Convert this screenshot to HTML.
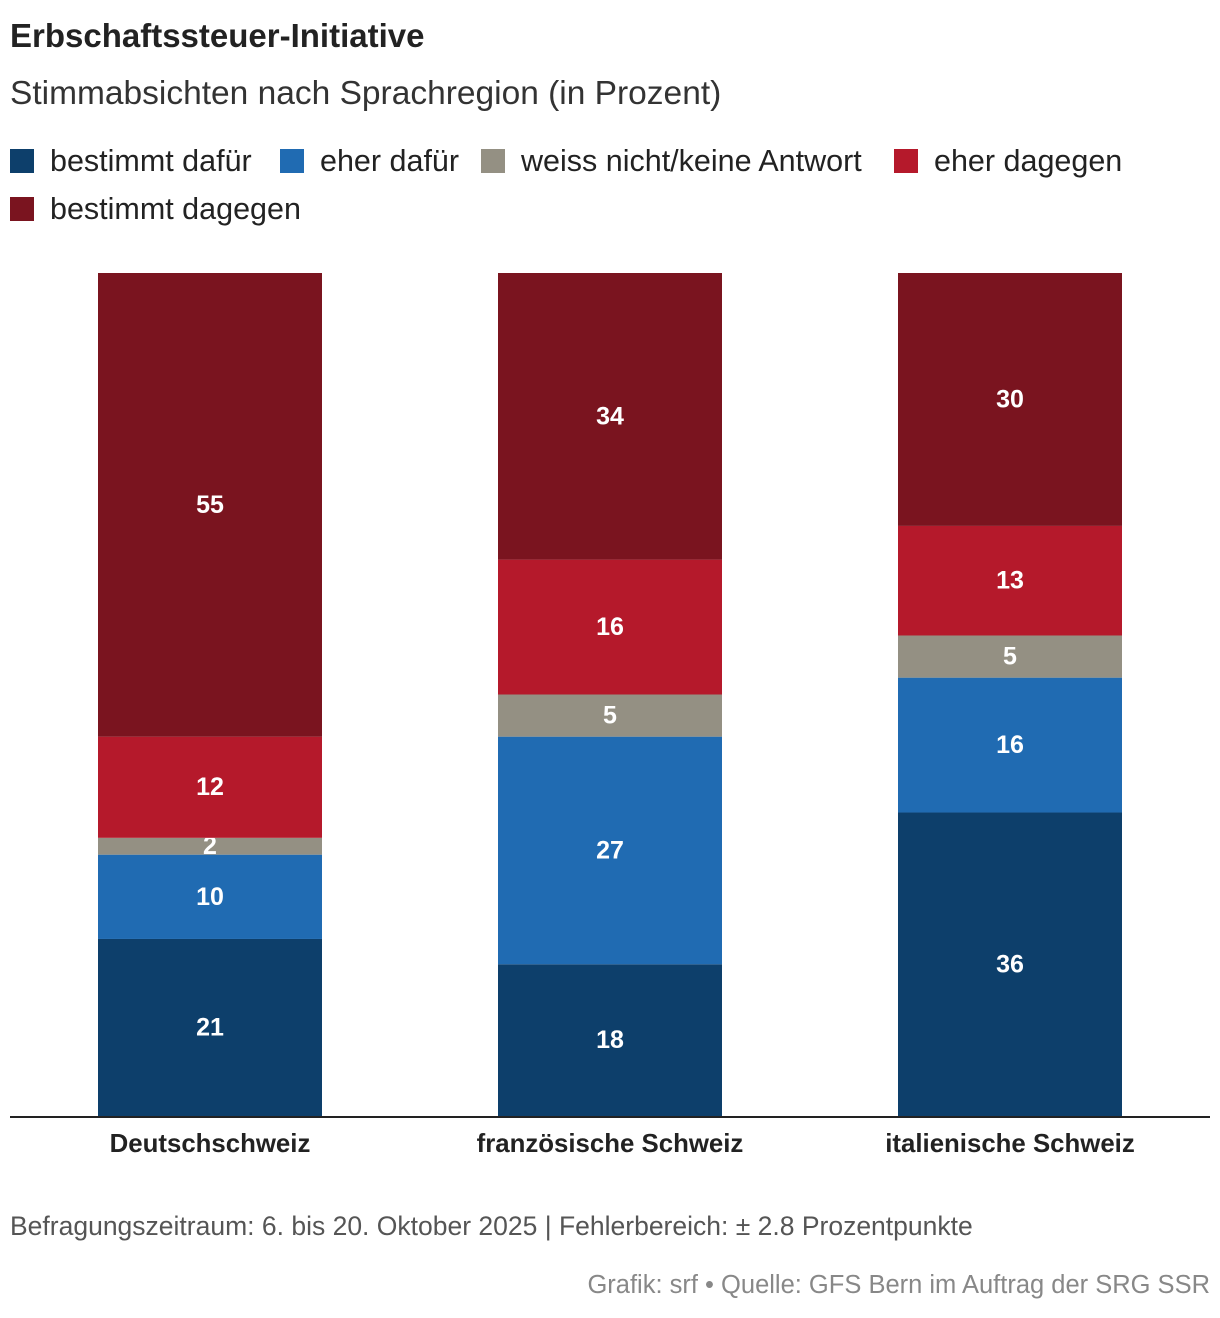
<!DOCTYPE html>
<html><head><meta charset="utf-8"><style>
body{margin:0;width:1220px;height:1318px;background:#fff;font-family:"Liberation Sans",sans-serif;color:#222;position:relative;overflow:hidden}
.t{position:absolute;white-space:nowrap}
.sw{display:inline-block;width:24px;height:24px;vertical-align:-2px;margin-right:16px}
.lg{position:absolute;font-size:30.5px;color:#222;white-space:nowrap}
</style></head><body>
<div class="t" style="left:10px;top:17px;font-size:33px;font-weight:bold">Erbschaftssteuer-Initiative</div>
<div class="t" style="left:10px;top:75px;font-size:33.5px;color:#333">Stimmabsichten nach Sprachregion (in Prozent)</div>
<div class="lg" style="left:10px;top:144px"><span class="sw" style="background:#0d3f6b"></span>bestimmt dafür</div>
<div class="lg" style="left:280px;top:144px"><span class="sw" style="background:#206bb2"></span>eher dafür</div>
<div class="lg" style="left:481px;top:144px"><span class="sw" style="background:#949083"></span>weiss nicht/keine Antwort</div>
<div class="lg" style="left:894px;top:144px"><span class="sw" style="background:#b5192b"></span>eher dagegen</div>
<div class="lg" style="left:10px;top:192px"><span class="sw" style="background:#7a141f"></span>bestimmt dagegen</div>
<svg id="chart" width="1220" height="1318" style="position:absolute;left:0;top:0"></svg>
<div class="t" style="left:10px;top:1211px;font-size:26.5px;color:#555">Befragungszeitraum: 6. bis 20. Oktober 2025 | Fehlerbereich: ± 2.8 Prozentpunkte</div>
<div class="t" style="right:10px;top:1271px;font-size:25.5px;color:#888">Grafik: srf • Quelle: GFS Bern im Auftrag der SRG SSR</div>
<script>
const categories=["Deutschschweiz","französische Schweiz","italienische Schweiz"];
const bestimmtDafuer=[21,18,36];
const eherDafuer=[10,27,16];
const weissNicht=[2,5,5];
const eherDagegen=[12,16,13];
const bestimmtDagegen=[55,34,30];
const series=[bestimmtDafuer,eherDafuer,weissNicht,eherDagegen,bestimmtDagegen];
const colors=["#0d3f6b","#206bb2","#949083","#b5192b","#7a141f"];
const names=["bar-bestimmt-dafuer","bar-eher-dafuer","bar-weiss-nicht","bar-eher-dagegen","bar-bestimmt-dagegen"];
const svg=document.getElementById('chart');const NS="http://www.w3.org/2000/svg";
const base=1116,top0=273,scale=(base-top0)/100;
const y=v=>base-v*scale;
const x=i=>210+i*400;const bw=224;
categories.forEach((c,i)=>{
  const tot=series.reduce((s,a)=>s+a[i],0);
  let cum=0;
  series.forEach((a,k)=>{
    const v=a[i]*100/tot;
    const r=document.createElementNS(NS,'rect');
    
    
    r.setAttribute('x',x(i)-bw/2);r.setAttribute('y',y(cum+v));
    r.setAttribute('width',bw);r.setAttribute('height',v*scale);r.setAttribute('fill',colors[k]);
    svg.appendChild(r);
    const t=document.createElementNS(NS,'text');
    
    
    t.setAttribute('x',x(i));t.setAttribute('y',y(cum+v/2)+8);
    t.setAttribute('text-anchor','middle');t.setAttribute('fill','#fff');
    t.setAttribute('font-size','25');t.setAttribute('font-weight','bold');
    t.textContent=a[i];svg.appendChild(t);
    cum+=v;
  });
  const l=document.createElementNS(NS,'text');
  
  
  l.setAttribute('x',x(i));l.setAttribute('y',1152);l.setAttribute('text-anchor','middle');
  l.setAttribute('font-size','25.8');l.setAttribute('font-weight','bold');l.setAttribute('fill','#222');
  l.textContent=c;svg.appendChild(l);
});
const ax=document.createElementNS(NS,'line');


ax.setAttribute('x1',10);ax.setAttribute('x2',1210);ax.setAttribute('y1',1117);ax.setAttribute('y2',1117);
ax.setAttribute('stroke','#222');ax.setAttribute('stroke-width','2');svg.appendChild(ax);
</script>
</body></html>
